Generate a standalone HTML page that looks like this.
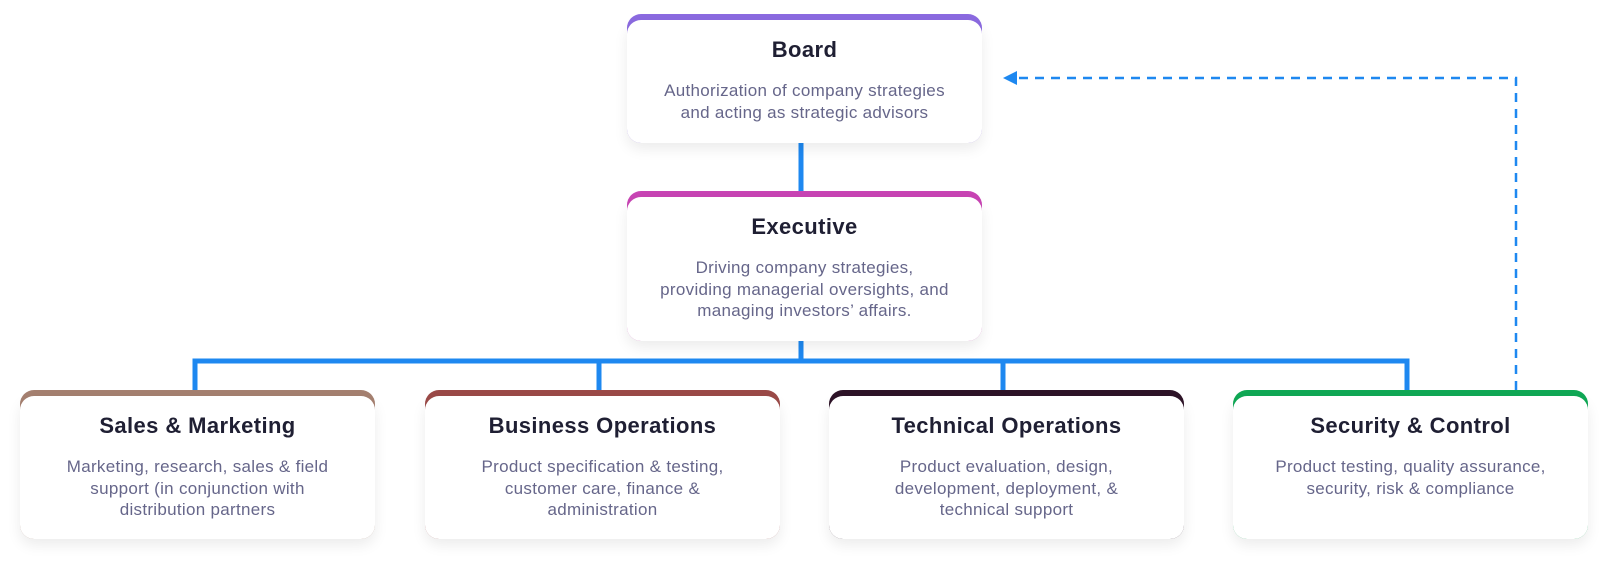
<!DOCTYPE html>
<html><head><meta charset="utf-8"><style>
body{margin:0;width:1608px;height:566px;background:#fff;position:relative;overflow:hidden;font-family:"Liberation Sans",sans-serif}
.box{position:absolute;width:355px;border-radius:14px}
.card{position:absolute;left:0;right:0;top:6px;bottom:0;background:#fff;border-radius:14px;box-shadow:0 6px 14px rgba(0,0,0,0.08);text-align:center}
.t{font-size:22px;font-weight:bold;color:#1f1f33;margin-top:17px;letter-spacing:0.4px}
.d{font-size:17px;color:#66668a;line-height:21.5px;margin-top:17px;letter-spacing:0.3px}
svg{position:absolute;left:0;top:0}
</style></head><body>
<svg width="1608" height="566">
<g stroke="#1e88f0" stroke-width="5" fill="none">
<line x1="801" y1="140" x2="801" y2="193"/>
<polyline points="801,338 801,361"/>
<polyline points="195,392 195,361 1407,361 1407,392"/>
<line x1="599" y1="361" x2="599" y2="392"/>
<line x1="1003" y1="361" x2="1003" y2="392"/>
</g>
<polyline points="1516,390 1516,78 1017,78" stroke="#1e88f0" stroke-width="2.5" stroke-dasharray="9,7" fill="none"/>
<polygon points="1003,78 1017,71 1017,85" fill="#1e88f0"/>
</svg>

<div class="box" style="left:627px;top:14px;height:129px;background:#8b6ae0"><div class="card"><div class="t">Board</div><div class="d">Authorization of company strategies<br>and acting as strategic advisors</div></div></div>

<div class="box" style="left:627px;top:191px;height:150px;background:#c844b4"><div class="card"><div class="t">Executive</div><div class="d">Driving company strategies,<br>providing managerial oversights, and<br>managing investors’ affairs.</div></div></div>

<div class="box" style="left:20px;top:390px;height:149px;background:#a58070"><div class="card"><div class="t">Sales &amp; Marketing</div><div class="d">Marketing, research, sales &amp; field<br>support (in conjunction with<br>distribution partners</div></div></div>

<div class="box" style="left:425px;top:390px;height:149px;background:#9b4a48"><div class="card"><div class="t">Business Operations</div><div class="d">Product specification &amp; testing,<br>customer care, finance &amp;<br>administration</div></div></div>

<div class="box" style="left:829px;top:390px;height:149px;background:#2e1428"><div class="card"><div class="t">Technical Operations</div><div class="d">Product evaluation, design,<br>development, deployment, &amp;<br>technical support</div></div></div>

<div class="box" style="left:1233px;top:390px;height:149px;background:#10a855"><div class="card"><div class="t">Security &amp; Control</div><div class="d">Product testing, quality assurance,<br>security, risk &amp; compliance</div></div></div>
</body></html>
